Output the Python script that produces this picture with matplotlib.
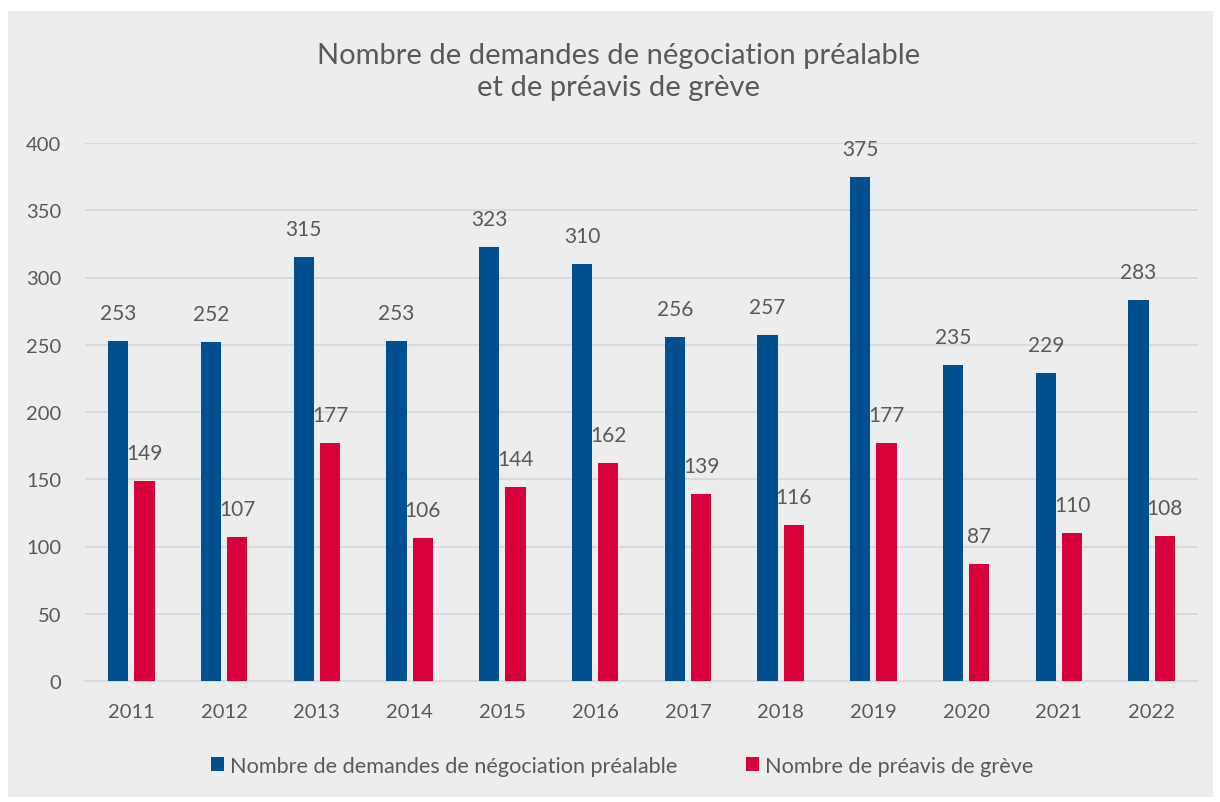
import numpy as np
import matplotlib.pyplot as plt
from matplotlib.patches import Rectangle

years = ["2011", "2012", "2013", "2014", "2015", "2016", "2017", "2018", "2019", "2020", "2021", "2022"]
negociation = [253, 252, 315, 253, 323, 310, 256, 257, 375, 235, 229, 283]
preavis = [149, 107, 177, 106, 144, 162, 139, 116, 177, 87, 110, 108]

blue = "#00508F"
red = "#D7003A"
grey_txt = "#595959"
bg = "#EDEDED"

plt.rcParams['font.family'] = ['Lato', 'DejaVu Sans']

fig = plt.figure(figsize=(12.2, 8.03), dpi=100)
fig.patch.set_facecolor("white")
fig.patches.append(Rectangle((8 / 1220, 5 / 803), 1205 / 1220, 786 / 803,
                             transform=fig.transFigure, facecolor=bg, edgecolor="none", zorder=-10))

ax = fig.add_axes([85 / 1220, 1 - 682 / 803, 1113 / 1220, 538 / 803])
ax.set_facecolor(bg)

x = np.arange(len(years))
w = 0.22
b1 = ax.bar(x - 0.142, negociation, w, color=blue, zorder=3)
b2 = ax.bar(x + 0.142, preavis, w, color=red, zorder=3)

for bars, vals in ((b1, negociation), (b2, preavis)):
    for r, v in zip(bars, vals):
        ax.annotate(str(v), (r.get_x() + r.get_width() / 2, v), xytext=(0, 13),
                    textcoords="offset points", ha="center", va="bottom",
                    fontsize=15, color=grey_txt)

ax.set_xlim(-0.5, len(years) - 0.5)
ax.set_ylim(0, 400)
ax.set_yticks(range(0, 401, 50))
ax.set_xticks(x)
ax.set_xticklabels(years)
ax.yaxis.grid(True, color="#D9D9D9", linewidth=1.3, zorder=0)
ax.tick_params(axis="both", length=0, labelsize=14.5, colors=grey_txt)
ax.tick_params(axis="x", pad=16)
ax.tick_params(axis="y", pad=17)
for s in ["top", "right", "left"]:
    ax.spines[s].set_visible(False)
ax.spines["bottom"].set_color("#D9D9D9")
ax.spines["bottom"].set_linewidth(1.3)

fig.text(0.507, 1 - 72 / 803, "Nombre de demandes de négociation préalable\net de préavis de grève",
         ha="center", va="center", fontsize=21, color=grey_txt, linespacing=1.3)

fig.legend([b1, b2], ["Nombre de demandes de négociation préalable", "Nombre de préavis de grève"],
           loc="center", bbox_to_anchor=(0.51, 1 - 767 / 803), ncol=2, frameon=False,
           fontsize=15.6, labelcolor=grey_txt, handlelength=0.6, handleheight=0.6,
           handletextpad=0.25, columnspacing=3.2)

fig.savefig("out.png", dpi=100)
